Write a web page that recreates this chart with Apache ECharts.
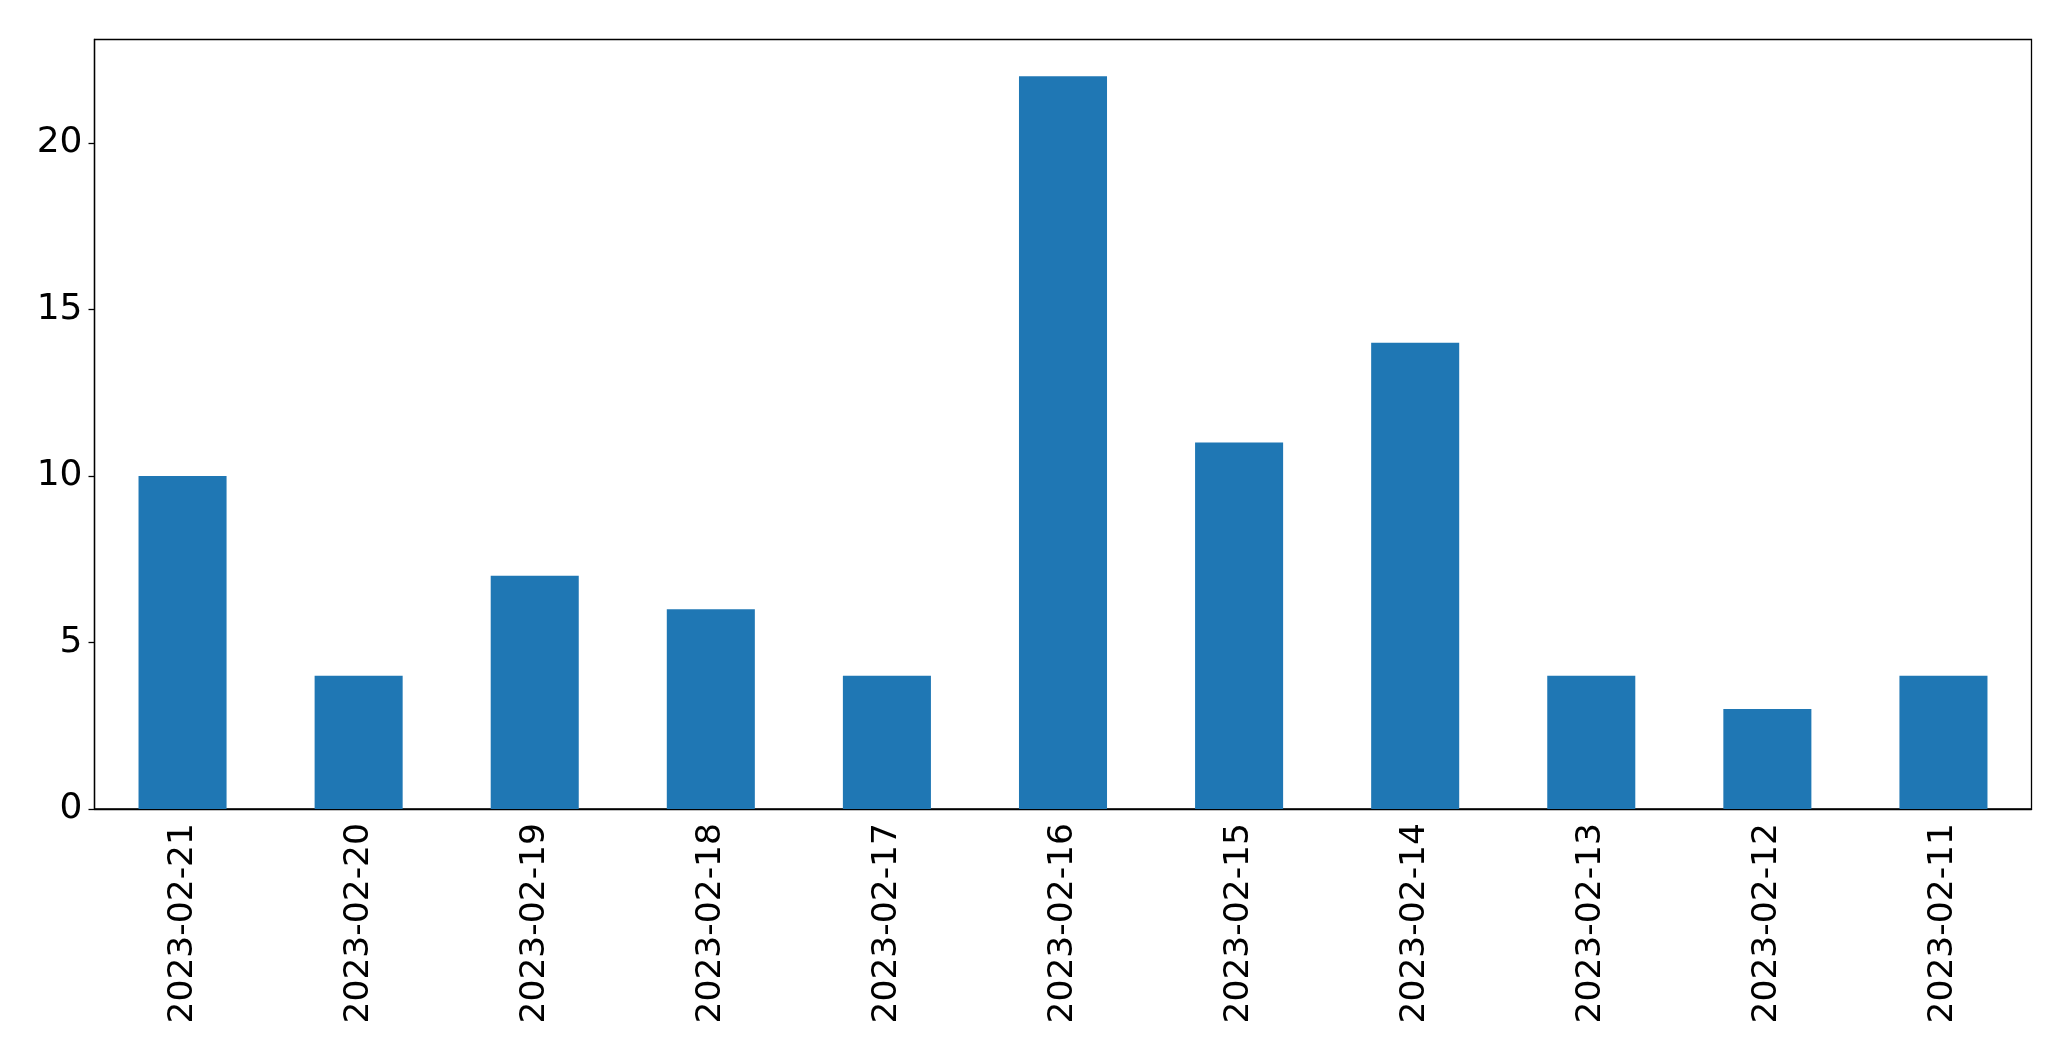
<!DOCTYPE html>
<html>
<head>
<meta charset="utf-8">
<script src="https://cdn.jsdelivr.net/npm/echarts@6/dist/echarts.min.js"></script>
<style>html,body{margin:0;padding:0;background:#fff;}#c{width:2071px;height:1061px;}</style>
</head>
<body>
<div id="c"></div>
<script>
const categories = ["2023-02-21","2023-02-20","2023-02-19","2023-02-18","2023-02-17","2023-02-16","2023-02-15","2023-02-14","2023-02-13","2023-02-12","2023-02-11"];
const values = [10,4,7,6,4,22,11,14,4,3,4];
const yTicks = [0,5,10,15,20];

const chart = echarts.init(document.getElementById('c'), null, {renderer:'canvas'});
const font = '"DejaVu Sans", sans-serif';
chart.setOption({
  animation: false,
  backgroundColor: '#fff',
  grid: {left: 94.5, right: 39.5, top: 39.5, bottom: 252, show: true, borderColor: '#000', borderWidth: 1.3, backgroundColor: 'transparent'},
  xAxis: {
    type: 'category',
    data: categories,
    axisLine: {lineStyle: {color: '#000', width: 1.3}},
    axisTick: {alignWithLabel: true, length: 6, lineStyle: {color: '#000', width: 1.3}},
    axisLabel: {rotate: 90, color: '#000', fontSize: 34.5, fontFamily: font, margin: 14, interval: 0}
  },
  yAxis: {
    type: 'value',
    min: 0, max: 23.1,
    interval: 5,
    splitLine: {show: false},
    axisLine: {show: true, lineStyle: {color: '#000', width: 1.3}},
    axisTick: {show: true, length: 6, customValues: yTicks, lineStyle: {color: '#000', width: 1.3}},
    axisLabel: {color: '#000', fontSize: 36, fontFamily: font, margin: 12, customValues: yTicks}
  },
  series: [{
    type: 'bar',
    data: values,
    barWidth: '50%',
    itemStyle: {color: '#1f77b4'}
  }]
});
</script>
</body>
</html>
